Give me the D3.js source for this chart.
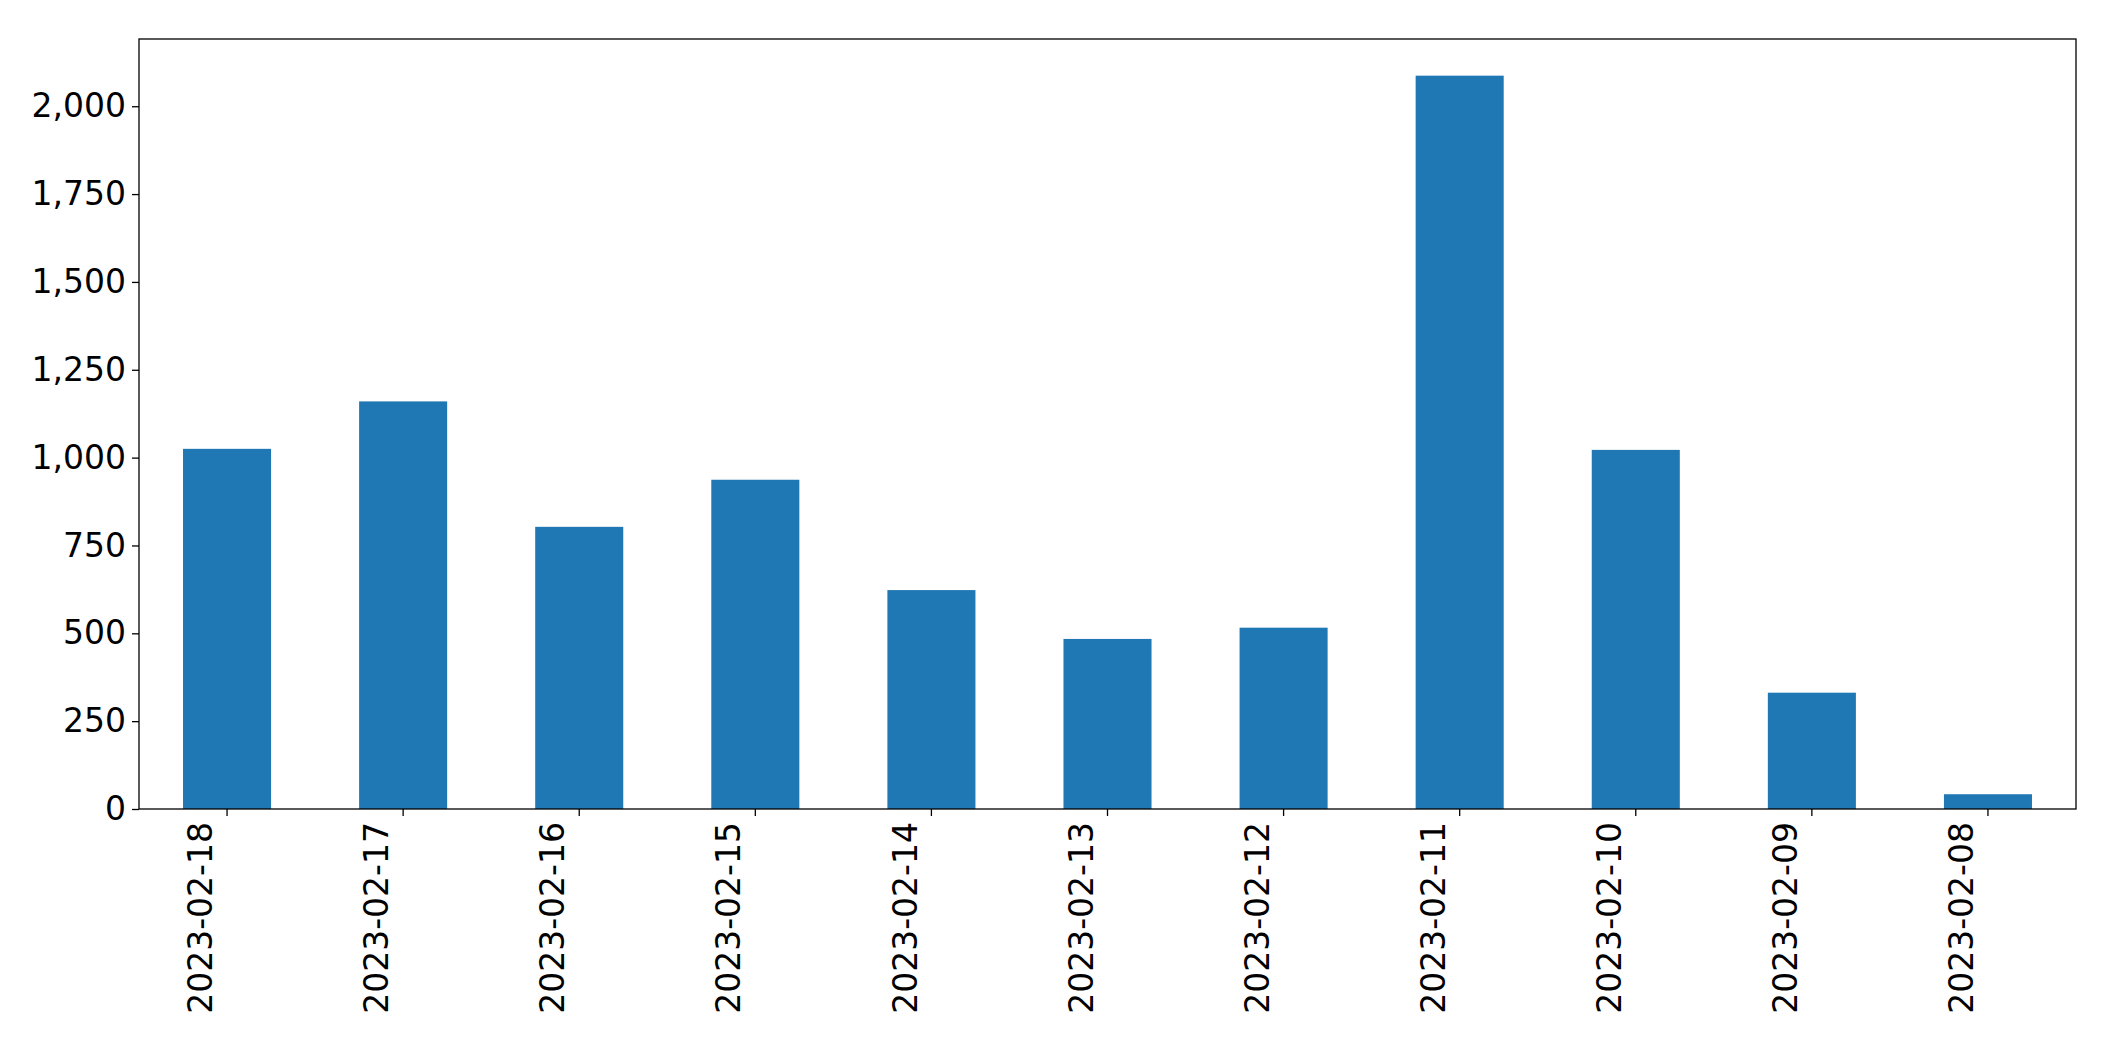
<!DOCTYPE html><html><head><meta charset="utf-8"><script src="https://cdn.jsdelivr.net/npm/d3@7"></script>
<style>body{margin:0;background:#fff}text{font-family:"DejaVu Sans";}</style></head><body><svg id="c" width="2115" height="1061"></svg><script>
const categories=["2023-02-18","2023-02-17","2023-02-16","2023-02-15","2023-02-14","2023-02-13","2023-02-12","2023-02-11","2023-02-10","2023-02-09","2023-02-08"];
const values=[1025,1160,803,937,623,484,516,2087,1022,331,42];
const yTicks=[0,250,500,750,1000,1250,1500,1750,2000];
const m={l:139,t:39,r:2076,b:809};
const svg=d3.select("#c");
const x=d3.scaleBand().domain(categories).range([m.l,m.r]).paddingInner(0.5).paddingOuter(0.25);
const y=d3.scaleLinear().domain([0,d3.max(values)*1.05]).range([m.b,m.t]);
svg.selectAll("rect.bar").data(values).join("rect").attr("class","bar")
 .attr("x",(d,i)=>x(categories[i])).attr("width",x.bandwidth())
 .attr("y",d=>y(d)).attr("height",d=>y(0)-y(d)).attr("fill","#1f77b4");
const ya=svg.append("g").attr("transform",`translate(${m.l},0)`).call(d3.axisLeft(y).tickValues(yTicks).tickSize(7).tickPadding(6));
const xa=svg.append("g").attr("transform",`translate(0,${m.b})`).call(d3.axisBottom(x).tickSize(7).tickPadding(6));
[ya,xa].forEach(a=>{a.select(".domain").remove();a.selectAll("line").attr("stroke","#000").attr("stroke-width",1.3);a.selectAll("text").attr("font-size",33).attr("fill","#000").attr("font-family","DejaVu Sans");});
xa.selectAll("text").attr("transform","rotate(-90)").attr("text-anchor","end").attr("dx","-13").attr("dy","-0.45em").attr("x",0).attr("y",0);
svg.append("rect").attr("x",m.l).attr("y",m.t).attr("width",m.r-m.l).attr("height",m.b-m.t).attr("fill","none").attr("stroke","#000").attr("stroke-width",1.3);
</script></body></html>
